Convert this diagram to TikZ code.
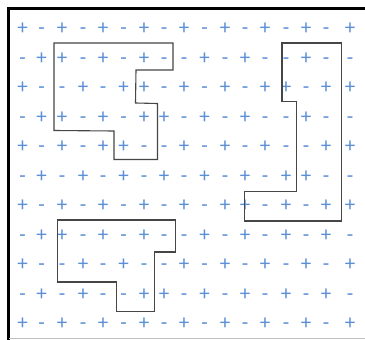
\documentclass[tikz,border=0pt]{standalone}
\usepackage{fontspec}
\setmainfont{Carlito}
\definecolor{symblue}{RGB}{91,143,214}
\definecolor{wallgray}{RGB}{70,70,70}
\begin{document}
\begin{tikzpicture}[x=1pt,y=-1pt,
  pmsym/.style={anchor=base,inner sep=0pt,text=symblue,font=\fontsize{21}{21}\selectfont},
  wallline/.style={draw=wallgray,line width=1.1pt,line join=miter}]
\useasboundingbox (0,0) rectangle (365,340);
\fill[white] (0,0) rectangle (365,340);
% frame
\draw[line width=3.2pt] (8.5,340) -- (8.5,8.7) -- (365,8.7);
\draw[black!25,line width=0.9pt] (8.5,338.5) -- (365,338.5);
% symbols
\foreach \row [count=\r from 0] in {
  {+,-,+,-,+,-,+,-,+,-,+,-,+,-,+,-,+},
  {-,+,+,-,+,-,+,-,-,+,-,+,-,-,+,-,-},
  {+,-,-,+,-,+,+,-,+,-,+,-,+,+,-,+,+},
  {-,+,+,-,+,-,+,+,-,+,-,+,-,-,+,-,-},
  {+,-,+,-,+,+,-,-,+,-,+,-,+,-,-,+,+},
  {-,+,-,+,-,+,-,+,-,+,-,+,-,+,+,-,-},
  {+,-,+,-,+,-,+,-,+,-,+,+,-,+,-,+,+},
  {-,+,+,-,+,-,+,-,-,+,-,+,-,+,-,+,-},
  {+,-,-,+,-,+,-,-,+,-,+,-,+,-,+,-,+},
  {-,+,-,+,-,-,+,+,-,+,-,+,-,+,-,+,-},
  {+,-,+,-,+,-,+,-,+,-,+,-,+,-,+,-,+}}{
  \foreach \s [count=\c from 0] in \row {
    \pgfmathsetmacro\xx{{22.5,41.5,62,83,103,123.5,144,164,184,204.5,225,245,265,286,306,326,350}[\c]}
    \pgfmathsetmacro\yy{28.3+29.5*\r+6.6}
    \node[pmsym] (s-\r-\c) at (\xx,\yy) {\s};
  }
}
% domains
\draw[wallline] (54,43) -- (173,43) -- (173,70) -- (136,70) -- (135.5,103) -- (157.5,103.5) -- (157.5,159.5) -- (114,159.5) -- (114,131) -- (54,130.5) -- cycle;
\draw[wallline] (282,43) -- (341.5,43) -- (341.5,221) -- (244.5,221) -- (244.5,191.5) -- (296.7,191.5) -- (296.7,101.5) -- (282,101.5) -- cycle;
\draw[wallline] (57.5,220) -- (175.5,220) -- (175.5,252) -- (154.3,252) -- (154.3,311.5) -- (116.7,311.5) -- (116.7,282) -- (57.5,282) -- cycle;
\end{tikzpicture}
\end{document}
